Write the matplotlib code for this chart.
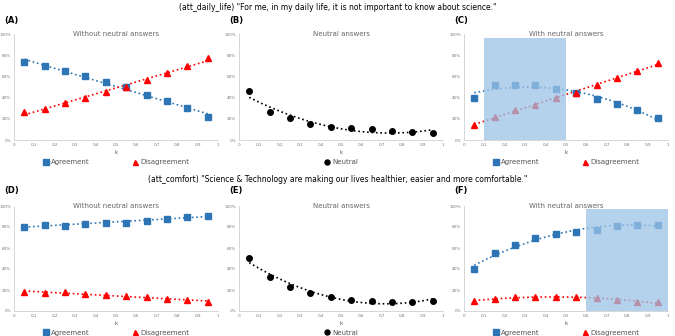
import numpy as np
import matplotlib.pyplot as plt

k = [0.05, 0.15, 0.25, 0.35, 0.45, 0.55, 0.65, 0.75, 0.85, 0.95]

# att_daily_life
a_agree = [0.736, 0.698, 0.651, 0.604, 0.544, 0.497, 0.425, 0.365, 0.302, 0.22]
a_disagree = [0.264, 0.296, 0.346, 0.393, 0.453, 0.497, 0.569, 0.635, 0.695, 0.77]
b_neutral = [0.462, 0.261, 0.204, 0.154, 0.12, 0.113, 0.10, 0.088, 0.075, 0.069]
c_agree = [0.40, 0.516, 0.522, 0.516, 0.481, 0.443, 0.387, 0.336, 0.283, 0.208]
c_disagree = [0.142, 0.22, 0.28, 0.333, 0.40, 0.447, 0.516, 0.585, 0.648, 0.726]

# att_comfort
d_agree = [0.804, 0.823, 0.813, 0.829, 0.839, 0.842, 0.861, 0.88, 0.896, 0.905]
d_disagree = [0.184, 0.171, 0.177, 0.161, 0.155, 0.146, 0.133, 0.114, 0.101, 0.089]
e_neutral = [0.503, 0.324, 0.233, 0.17, 0.129, 0.107, 0.10, 0.088, 0.082, 0.094]
f_agree = [0.399, 0.557, 0.627, 0.696, 0.731, 0.753, 0.775, 0.807, 0.823, 0.823]
f_disagree = [0.092, 0.114, 0.136, 0.136, 0.133, 0.133, 0.12, 0.101, 0.089, 0.082]

row_titles = ['(att_daily_life) "For me, in my daily life, it is not important to know about science."',
              '(att_comfort) "Science & Technology are making our lives healthier, easier and more comfortable."']
panel_titles = ['Without neutral answers', 'Neutral answers', 'With neutral answers']
panel_labels = [['(A)', '(B)', '(C)'], ['(D)', '(E)', '(F)']]
shade_c = (0.1, 0.5, 0.0, 0.962)
shade_f = (0.6, 1.0, 0.0, 0.97)

BLUE = '#2e75b6'
RED = '#ff0000'

W, H = 675, 336
fig = plt.figure(figsize=(6.75, 3.36), dpi=100)


def add_ax(px_left, px_top, px_right, px_bottom):
    return fig.add_axes([px_left / W, 1 - px_bottom / H,
                         (px_right - px_left) / W, (px_bottom - px_top) / H])


def series(ax, y, color, marker, deg, ms, label):
    ax.plot(k, y, linestyle='none', marker=marker, color=color, ms=ms, label=label, zorder=3)
    coef = np.polyfit(k, y, deg)
    xs = np.linspace(k[0], k[-1], 100)
    ax.plot(xs, np.polyval(coef, xs), linestyle=':', color=color, lw=1.2, zorder=2)


def style(ax, title):
    ax.set_xlim(0, 1)
    ax.set_ylim(0, 1)
    ax.set_xticks(np.arange(0, 1.01, 0.1))
    ax.set_xticklabels(['0'] + [('%.1f' % v).replace('.', ',') for v in np.arange(0.1, 0.95, 0.1)] + ['1'])
    ax.set_yticks(np.arange(0, 1.01, 0.2))
    ax.set_yticklabels(['%d%%' % (v * 100) for v in np.arange(0, 1.01, 0.2)])
    ax.tick_params(labelsize=3, colors='#777777', length=0, pad=2)
    for s in ['top', 'right']:
        ax.spines[s].set_visible(False)
    for s in ['left', 'bottom']:
        ax.spines[s].set_color('#d0d0d0')
        ax.spines[s].set_linewidth(0.6)
    ax.text(0.5, 1.0, title, transform=ax.transAxes, ha='center', va='center',
            fontsize=5, color='#666666')
    ax.set_xlabel('k', fontsize=4, color='#555555', labelpad=2)
    ax.legend(loc='upper center', bbox_to_anchor=(0.5, -0.12), ncol=2, frameon=False,
              fontsize=5, labelcolor='#555555', handletextpad=0.2, columnspacing=6,
              markerscale=0.9, handlelength=1)


cols = [(14, 218), (239, 443), (464, 668)]
rows = [(34, 140), (206, 311)]
data = [
    [[(a_agree, 1), (a_disagree, 1)], [(b_neutral, 2)], [(c_agree, 2), (c_disagree, 1)]],
    [[(d_agree, 1), (d_disagree, 1)], [(e_neutral, 2)], [(f_agree, 2), (f_disagree, 2)]],
]
shades = [[None, None, shade_c], [None, None, shade_f]]
title_y = [7, 179]
label_y = [20, 190]

for r, (top, bottom) in enumerate(rows):
    fig.text(0.5, 1 - title_y[r] / H, row_titles[r], ha='center', va='center', fontsize=5.5)
    for c, (left, right) in enumerate(cols):
        ax = add_ax(left, top, right, bottom)
        d = data[r][c]
        if c == 1:
            series(ax, d[0][0], 'black', 'o', d[0][1], 4, 'Neutral')
        else:
            series(ax, d[0][0], BLUE, 's', d[0][1], 4.5, 'Agreement')
            series(ax, d[1][0], RED, '^', d[1][1], 4, 'Disagreement')
        style(ax, panel_titles[c])
        sh = shades[r][c]
        if sh is not None:
            ax.fill_between([sh[0], sh[1]], sh[2], sh[3], color='#9dc3e6', alpha=0.75,
                            lw=0, zorder=4)
        fig.text((left - 10) / W, 1 - label_y[r] / H, panel_labels[r][c], ha='left',
                 va='center', fontsize=6, fontweight='bold')

fig.savefig('out.png', dpi=100)
